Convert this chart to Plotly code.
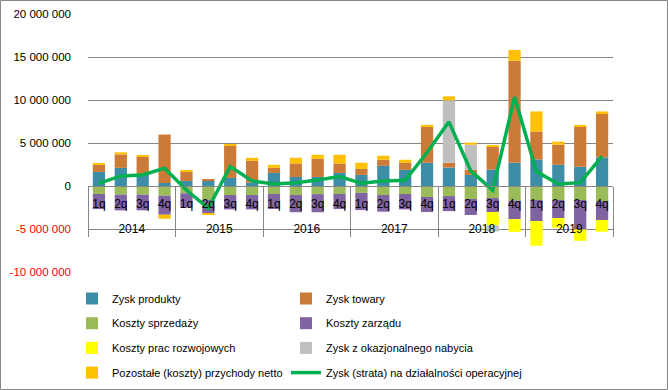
import plotly.graph_objects as go

years = ["2014"] * 4 + ["2015"] * 4 + ["2016"] * 4 + ["2017"] * 4 + ["2018"] * 4 + ["2019"] * 4
quarters = ["1q", "2q", "3q", "4q"] * 6

# values in millions of PLN
M = 1_000_000
zysk_produkty = [1.64, 2.11, 1.30, 0.35, 0.59, 0.59, 0.94, 0.39, 1.52, 1.05, 1.05, 1.52,
                 1.29, 2.34, 1.88, 2.70, 2.15, 1.29, 1.91, 2.70, 3.09, 2.46, 2.23, 3.32]
zysk_towary = [0.82, 1.56, 2.10, 5.63, 1.05, 0.11, 3.75, 2.54, 0.59, 1.57, 2.11, 1.10,
               0.70, 0.71, 0.82, 4.21, 0.55, 0.59, 2.66, 11.87, 3.24, 2.34, 4.68, 5.12]
koszty_sprzedazy = [-0.93, -1.00, -1.00, -1.13, -0.85, -1.60, -1.05, -1.05, -0.93, -1.05, -0.95, -0.93,
                    -0.80, -1.05, -0.93, -1.28, -1.17, -1.51, -1.40, -1.70, -1.63, -1.63, -1.63, -1.75]
koszty_zarzadu = [-1.75, -1.83, -1.83, -2.21, -1.65, -1.55, -1.67, -1.67, -1.75, -2.00, -2.10, -1.75,
                  -2.00, -1.94, -1.79, -1.75, -1.75, -1.86, -1.63, -2.15, -2.45, -2.10, -3.42, -2.20]
koszty_rozwoj = [0, 0, 0, 0, 0, 0, 0, 0, 0, 0, 0, 0,
                 0, 0, 0, 0, 0, 0, -1.55, -1.48, -2.87, -1.13, -1.32, -1.36]
zysk_okazjonalny = [0, 0, 0, 0, 0, 0, 0, 0, 0, 0, 0, 0,
                    0, 0, 0, 0, 7.26, 2.92, -0.70, 0, 0, 0, 0, 0]
pozostale = [0.16, 0.24, 0.12, -0.47, 0.12, -0.15, 0.15, 0.35, 0.35, 0.66, 0.47, 1.01,
             0.71, 0.47, 0.35, 0.20, 0.47, 0.24, 0.12, 1.25, 2.34, 0.36, 0.12, 0.23]
zysk_operacyjny = [0.31, 1.17, 1.29, 2.07, -0.47, -2.60, 2.27, 0.59, 0.23, 0.39, 0.70, 1.09,
                   0.31, 0.59, 0.66, 3.90, 7.46, 1.76, -0.50, 10.35, 1.68, 0.23, 0.39, 3.44]

tick_vals = [20, 15, 10, 5, 0, -5, -10]
tick_labels = ["20 000 000", "15 000 000", "10 000 000", "5 000 000", "0", "-5 000 000", "-10 000 000"]

# year level shown one line lower, as in the reference
year_labels = ["<br>" + y for y in years]
x = [year_labels, quarters]
FONT = "Liberation Sans"

bar_series = [
    ("Zysk produkty", zysk_produkty, "#3E8DA6", "legend"),
    ("Zysk towary", zysk_towary, "#CC7A38", "legend2"),
    ("Koszty sprzedaży", koszty_sprzedazy, "#9BBB59", "legend"),
    ("Koszty zarządu", koszty_zarzadu, "#8064A2", "legend2"),
    ("Koszty prac rozwojowych", koszty_rozwoj, "#FFFF00", "legend"),
    ("Zysk z okazjonalnego nabycia", zysk_okazjonalny, "#BFBFBF", "legend2"),
    ("Pozostałe (koszty) przychody netto", pozostale, "#FFC000", "legend"),
]

fig = go.Figure()
for i, (name, vals, color, lg) in enumerate(bar_series):
    fig.add_trace(go.Bar(
        x=x, y=[v * M for v in vals], name=name, marker=dict(color=color, line=dict(width=0)),
        legend=lg, legendgroup=f"g{i}",
    ))
fig.add_trace(go.Scatter(
    x=x, y=[v * M for v in zysk_operacyjny], name="Zysk (strata) na działalności operacyjnej",
    mode="lines", line=dict(color="#00B050", width=3.5), legend="legend2", legendgroup="g7",
))

ticktext = []
for v, t in zip(tick_vals, tick_labels):
    if v < 0:
        ticktext.append(f'<span style="color:#FF0000">{t}</span>')
    else:
        ticktext.append(t)

L, R, T, B = 88, 55, 14, 118
W, H = 668, 390
pw, ph = W - L - R, H - T - B

def px_x(p):
    return (p - L) / pw

def px_y(p):
    return (H - B - p) / ph

fig.update_layout(
    width=W, height=H, autosize=False,
    margin=dict(l=L, r=R, t=T, b=B, pad=0, autoexpand=False),
    paper_bgcolor="white", plot_bgcolor="white",
    barmode="relative", bargap=0.44,
    font=dict(family=FONT, size=12, color="#000000"),
    showlegend=True,
    legend=dict(x=px_x(72), y=px_y(284), xanchor="left", yanchor="top",
                tracegroupgap=5.7, font=dict(size=11, family=FONT), bgcolor="rgba(0,0,0,0)"),
    legend2=dict(x=px_x(286), y=px_y(284), xanchor="left", yanchor="top",
                 tracegroupgap=5.7, font=dict(size=11, family=FONT), bgcolor="rgba(0,0,0,0)"),
    xaxis=dict(type="multicategory", anchor="free", position=1/3,
               showline=True, linecolor="#868686", linewidth=1,
               showdividers=True, dividercolor="#868686", dividerwidth=1,
               ticks="", showgrid=False, tickangle=0, ticklabelstandoff=7,
               tickfont=dict(size=12, family=FONT)),
    yaxis=dict(range=[-10 * M, 20 * M], tickvals=[v * M for v in tick_vals], ticktext=ticktext,
               showgrid=True, gridcolor="#868686", gridwidth=1,
               zeroline=True, zerolinecolor="#868686", zerolinewidth=1,
               showline=False, ticks="", tickfont=dict(size=11.5, family=FONT), ticklabelstandoff=16),
    shapes=[dict(type="rect", xref="paper", yref="paper",
                 x0=px_x(0.5), x1=px_x(W - 0.5), y0=px_y(0.5), y1=px_y(H - 0.5),
                 line=dict(color="#868686", width=1), fillcolor="rgba(0,0,0,0)", layer="below")],
)

fig.write_html("out.html", config={"displayModeBar": False},
               post_script="document.body.style.margin='0';")
